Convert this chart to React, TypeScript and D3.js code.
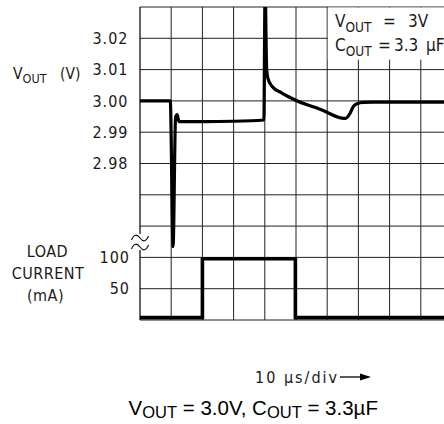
import React from "react";
import * as d3 from "d3";

// Voltage trace (time in µs, 10 µs/div), V_OUT in volts
const timeUs = [0, 9.7, 10.6, 11.4, 11.9, 12.5, 20, 30, 39.7, 40.1, 40.6, 41.0, 42.3, 45.5, 49.7, 58.3, 64.7, 65.9, 67.3, 68.3, 69.6, 71.5, 75, 100];
const voutV = [3.0, 3.0, 2.9535, 2.9948, 2.9956, 2.9934, 2.9934, 2.9935, 2.9939, 3.036, 3.0099, 3.0072, 3.0047, 3.0025, 3.0003, 2.9971, 2.9945, 2.9944, 2.996, 2.9981, 2.9991, 2.9995, 2.9996, 2.9996];

// Load current step (mA)
const loadTime = [0, 20, 20, 49.8, 49.8, 100];
const loadMa = [0, 0, 100, 100, 0, 0];

const voltTicks = [3.02, 3.01, 3.0, 2.99, 2.98];
const currentTicks = [100, 50];
const gridTimes = d3.range(0, 101, 10);
const gridVolts = d3.range(0, 11).map((i) => 2.93 + i * 0.01);

const DIN = "'DejaVu Sans Condensed', 'DejaVu Sans', sans-serif";

export default function App() {
  const x = d3.scaleLinear().domain([0, 100]).range([140, 452]);
  const yV = d3.scaleLinear().domain([2.93, 3.03]).range([320, 7]);
  const yIgrid = d3.scaleLinear().domain([0, 100]).range([320, 257.4]);
  const yI = d3.scaleLinear().domain([0, 100]).range([317.6, 258.8]);

  const vLine = d3
    .line<number>()
    .x((_, i) => x(timeUs[i]))
    .y((d) => yV(d))
    .curve(d3.curveMonotoneX);
  const iLine = d3
    .line<number>()
    .x((_, i) => x(loadTime[i]))
    .y((d) => yI(d));

  const top = yV(3.03);
  const bottom = yV(2.93);

  return (
    <svg width={444} height={424} style={{ position: "absolute", left: 0, top: 0, background: "#fff" }}>
      <defs>
        <clipPath id="plot">
          <rect x={x(0)} y={top} width={x(100) - x(0)} height={bottom - top} />
        </clipPath>
      </defs>
      <rect x={0} y={0} width={444} height={424} fill="#fff" />
      {/* grid */}
      {gridTimes.slice(1).map((t) => (
        <line key={"vx" + t} x1={x(t)} x2={x(t)} y1={top} y2={bottom} stroke="#222" strokeWidth={1} />
      ))}
      {gridVolts.map((v, i) => (
        <line key={"hy" + i} x1={x(0)} x2={x(100)} y1={yV(v)} y2={yV(v)} stroke="#222" strokeWidth={1} />
      ))}
      {/* left border with break */}
      <line x1={x(0)} x2={x(0)} y1={top} y2={234} stroke="#111" strokeWidth={1.3} />
      <line x1={x(0)} x2={x(0)} y1={250} y2={bottom} stroke="#111" strokeWidth={1.3} />
      <path d="M131.5,240 C134,234 137,234 140,238 S146,242 148.5,236" fill="none" stroke="#111" strokeWidth={1.2} />
      <path d="M131.5,249 C134,243 137,243 140,247 S146,251 148.5,245" fill="none" stroke="#111" strokeWidth={1.2} />

      {/* annotation box */}
      <rect x={x(60) + 0.6} y={top + 0.6} width={130} height={52} fill="#fff" />

      {/* traces */}
      <g clipPath="url(#plot)">
        <path d={vLine(voutV) || ""} fill="none" stroke="#000" strokeWidth={3.2} strokeLinejoin="round" />
        <path d={iLine(loadMa) || ""} fill="none" stroke="#000" strokeWidth={3.6} />
      </g>

      {/* annotation text */}
      <g fontFamily={DIN} fill="#1a1a1a">
        <text x={335} y={27} fontSize={17}>
          V<tspan fontSize={13.5} dy={5}>OUT</tspan>
          <tspan x={383} dy={-5}>=</tspan>
          <tspan x={408}>3V</tspan>
        </text>
        <text x={335} y={50.5} fontSize={17}>
          C<tspan fontSize={13.5} dy={5}>OUT</tspan>
          <tspan x={378} dy={-5}>=</tspan>
          <tspan x={394}>3.3</tspan>
          <tspan x={426}>µF</tspan>
        </text>
      </g>

      {/* voltage ticks */}
      <g fontFamily={DIN} fontSize={16} fill="#1a1a1a" textAnchor="end">
        {voltTicks.map((v) => (
          <text key={v} x={128.5} y={yV(v)} dy="0.36em" letterSpacing={1}>
            {v.toFixed(2)}
          </text>
        ))}
        {currentTicks.map((c) => (
          <text key={c} x={130} y={yIgrid(c)} dy="0.36em" letterSpacing={1}>
            {c}
          </text>
        ))}
      </g>

      {/* axis labels */}
      <g fontFamily={DIN} fill="#1a1a1a">
        <text x={13} y={79} fontSize={15.5}>
          V<tspan fontSize={12.5} dy={4}>OUT</tspan>
          <tspan x={60} dy={-4}>(V)</tspan>
        </text>
        <g fontSize={16} textAnchor="middle" letterSpacing={0.5}>
          <text x={47.5} y={257}>LOAD</text>
          <text x={48} y={279}>CURRENT</text>
          <text x={45.5} y={301}>(mA)</text>
        </g>
        <text x={255} y={383} fontSize={16} letterSpacing={2}>
          10 µs/div
        </text>
      </g>
      <line x1={340} x2={364} y1={377} y2={377} stroke="#000" strokeWidth={1.3} />
      <path d="M371,377 L360,373.5 L360,380.5 Z" fill="#000" />

      {/* caption */}
      <text x={128.5} y={415} fontFamily="'Liberation Sans', Arial, sans-serif" fontSize={20.5} fill="#000">
        V<tspan fontSize={16.5} dy={3}>OUT</tspan>
        <tspan dy={-3}> = 3.0V, C</tspan>
        <tspan fontSize={16.5} dy={3}>OUT</tspan>
        <tspan dy={-3}> = 3.3µF</tspan>
      </text>
    </svg>
  );
}
